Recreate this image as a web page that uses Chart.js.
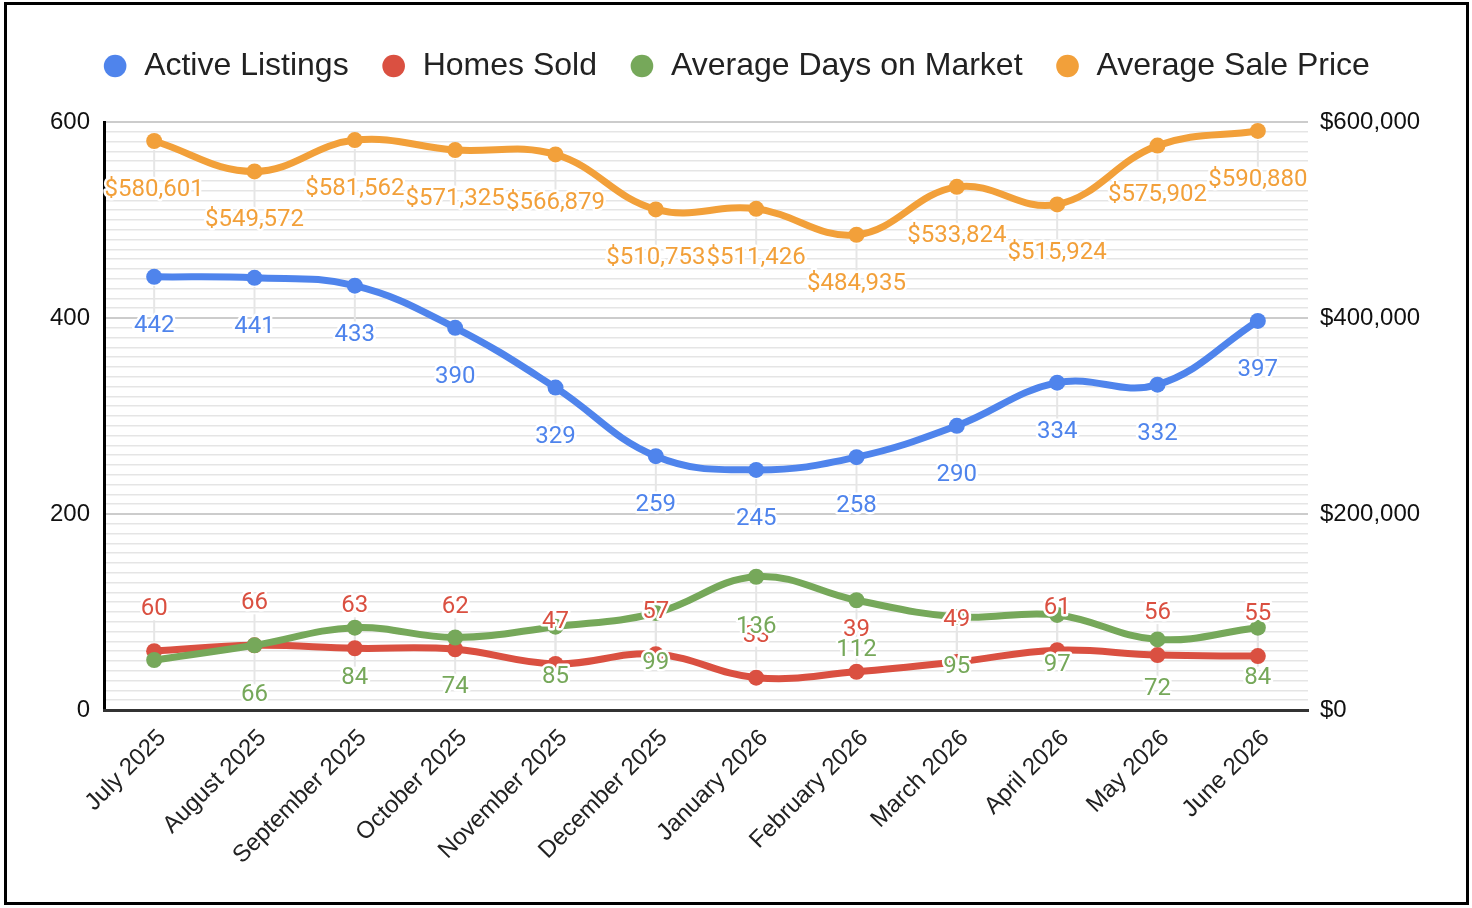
<!DOCTYPE html>
<html>
<head>
<meta charset="utf-8">
<title>Market Stats</title>
<script src="https://cdn.jsdelivr.net/npm/chart.js@4.4.1/dist/chart.umd.min.js"></script>
<style>
  html, body { margin: 0; padding: 0; background: #fff; }
  #wrap { position: relative; width: 1472px; height: 908px; }
  #frame { position: absolute; left: 4px; top: 2px; width: 1465px; height: 903px;
           box-sizing: border-box; border: 3px solid #000; pointer-events: none; }
</style>
</head>
<body>
<div id="wrap">
  <canvas id="marketChart" width="1472" height="908"></canvas>
  <div id="frame"></div>
</div>
<script>
// Data
var months = ["July 2025", "August 2025", "September 2025", "October 2025", "November 2025",
  "December 2025", "January 2026", "February 2026", "March 2026", "April 2026", "May 2026", "June 2026"];
var activeListings = [442, 441, 433, 390, 329, 259, 245, 258, 290, 334, 332, 397];
var homesSold = [60, 66, 63, 62, 47, 57, 33, 39, 49, 61, 56, 55];
var daysOnMarket = [51, 66, 84, 74, 85, 99, 136, 112, 95, 97, 72, 84];
var salePrice = [580601, 549572, 581562, 571325, 566879, 510753, 511426, 484935, 533824, 515924, 575902, 590880];

var countTicks = [0, 200, 400, 600];
var priceTicks = [0, 200000, 400000, 600000];

var sans = "'Liberation Sans', Arial, sans-serif";

function money(v) {
  return "$" + Number(v).toLocaleString("en-US");
}

// labels under/over the points, with a thin leader line
var pointLabels = {
  id: "pointLabels",
  beforeDatasetsDraw: function (chart) {
    var ctx = chart.ctx;
    ctx.save();
    ctx.strokeStyle = "#e6e6e6";
    ctx.lineWidth = 2;
    chart.data.datasets.forEach(function (ds, i) {
      var meta = chart.getDatasetMeta(i);
      var dir = ds.labelDy > 0 ? 1 : -1;
      meta.data.forEach(function (pt, j) {
        if (ds.hideLabels && ds.hideLabels.indexOf(j) >= 0) return;
        ctx.beginPath();
        ctx.moveTo(pt.x, pt.y + dir * 9);
        ctx.lineTo(pt.x, pt.y + ds.labelDy - dir * 11);
        ctx.stroke();
      });
    });
    ctx.restore();
  },
  afterDatasetsDraw: function (chart) {
    var ctx = chart.ctx;
    ctx.save();
    ctx.font = "24px Roboto";
    ctx.textAlign = "center";
    ctx.textBaseline = "middle";
    ctx.lineJoin = "round";
    chart.data.datasets.forEach(function (ds, i) {
      var meta = chart.getDatasetMeta(i);
      meta.data.forEach(function (pt, j) {
        if (ds.hideLabels && ds.hideLabels.indexOf(j) >= 0) return;
        var txt = ds.yAxisID === "y1" ? money(ds.data[j]) : String(ds.data[j]);
        var y = pt.y + ds.labelDy;
        ctx.strokeStyle = "#fff";
        ctx.lineWidth = 5;
        ctx.strokeText(txt, pt.x, y);
        ctx.fillStyle = ds.borderColor;
        ctx.fillText(txt, pt.x, y);
      });
    });
    ctx.restore();
  }
};

var fixLegend = {
  id: "fixLegend",
  beforeLayout: function (chart) {
    var lg = chart.legend;
    if (lg && !lg._fixed) {
      var fit = lg.fit;
      lg.fit = function () { fit.call(this); this.height = 104; };
      lg._fixed = true;
    }
  }
};

function line(label, data, color, axis, dy, order) {
  return {
    label: label,
    data: data,
    yAxisID: axis,
    borderColor: color,
    backgroundColor: color,
    pointBackgroundColor: color,
    pointBorderWidth: 0,
    pointRadius: 8,
    pointHoverRadius: 8,
    borderWidth: 7,
    tension: 0.4,
    fill: false,
    labelDy: dy,
    order: order
  };
}

var dsActive = line("Active Listings", activeListings, "#4f84ec", "y", 49, 0);
var dsSold = line("Homes Sold", homesSold, "#da5041", "y", -42, 3);
var dsDays = line("Average Days on Market", daysOnMarket, "#76a85a", "y", 50, 2);
dsDays.hideLabels = [0];
var dsPrice = line("Average Sale Price", salePrice, "#f2a03a", "y1", 49, 1);

new Chart("marketChart", {
  type: "line",
  data: {
    labels: months,
    datasets: [dsActive, dsSold, dsDays, dsPrice]
  },
  options: {
    responsive: false,
    animation: false,
    layout: { padding: { top: 18, left: 0, right: 0, bottom: 0 } },
    plugins: {
      legend: {
        position: "top",
        align: "center",
        labels: {
          usePointStyle: true,
          pointStyle: "circle",
          boxWidth: 26,
          boxHeight: 16,
          padding: 32,
          color: "#222",
          font: { family: sans, size: 32 },
          sort: function (a, b) { return a.datasetIndex - b.datasetIndex; }
        }
      },
      tooltip: { enabled: false }
    },
    scales: {
      x: {
        offset: true,
        grid: { display: false },
        border: { display: true, color: "#333", width: 3, z: 1 },
        ticks: {
          autoSkip: false,
          maxRotation: 45,
          minRotation: 45,
          padding: 6,
          labelOffset: 8,
          color: "#222",
          font: { family: sans, size: 24 }
        },
        afterFit: function (s) { s.height = 198; }
      },
      y: {
        position: "left",
        min: 0,
        max: 600,
        grid: {
          drawTicks: false,
          color: function (c) { return c.tick && c.tick.value % 200 === 0 ? "#cccccc" : "#e5e5e5"; },
          lineWidth: function (c) { return c.tick && c.tick.value % 200 === 0 ? 2 : 1.5; }
        },
        border: { display: true, color: "#000", width: 3 },
        ticks: {
          stepSize: 10,
          autoSkip: false,
          padding: 14,
          color: "#111",
          font: { family: sans, size: 24 },
          callback: function (v) { return countTicks.indexOf(v) >= 0 ? String(v) : ""; }
        },
        afterFit: function (s) { s.width = 104; }
      },
      y1: {
        position: "right",
        min: 0,
        max: 600000,
        grid: { display: false, drawTicks: false },
        border: { display: false },
        ticks: {
          stepSize: 200000,
          padding: 12,
          color: "#111",
          font: { family: sans, size: 24 },
          callback: function (v) { return priceTicks.indexOf(v) >= 0 ? money(v) : ""; }
        },
        afterFit: function (s) { s.width = 164; }
      }
    }
  },
  plugins: [pointLabels, fixLegend]
});
</script>
</body>
</html>
